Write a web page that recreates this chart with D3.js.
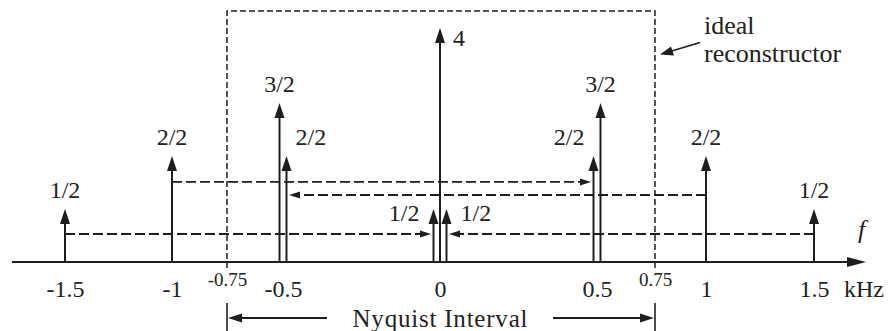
<!DOCTYPE html>
<html>
<head>
<meta charset="utf-8">
<script src="https://cdn.jsdelivr.net/npm/d3@7/dist/d3.min.js"></script>
<style>
  body { margin: 0; background: #fff; }
</style>
</head>
<body>
<svg id="chart" width="889" height="331"></svg>
<script>
// frequency axis ticks (kHz) - drawing is schematic, not to scale
const tickFreqs  = [-1.5, -1, -0.75, -0.5, 0, 0.5, 0.75, 1, 1.5];
const tickLabels = ["-1.5", "-1", "-0.75", "-0.5", "0", "0.5", "0.75", "1", "1.5"];

// spectral lines after sampling: frequency, side of a split pair, amplitude, label
const lineFreqs  = [-1.5, -1, -0.5, -0.5, 0, 0, 0, 0.5, 0.5, 1, 1.5];
const lineSides  = [0, 0, -1, 1, 0, -1, 1, -1, 1, 0, 0];
const lineAmps   = [0.5, 1, 1.5, 1, 4, 0.5, 0.5, 1, 1.5, 1, 0.5];
const lineLabels = ["1/2", "2/2", "3/2", "2/2", "4", "1/2", "1/2", "2/2", "3/2", "2/2", "1/2"];

// aliasing arrows: from frequency -> to frequency (side), drawn at an amplitude level
const foldFrom  = [-1.5, 1.5, -1, 1];
const foldTo    = [0, 0, 0.5, -0.5];
const foldSide  = [-1, 1, -1, 1];
const foldLevel = [0.264, 0.264, 0.755, 0.632];

const nyquist = [-0.75, 0.75];

const svg = d3.select('#chart');
const ink = '#1e1e1e';
const serif = '"Liberation Serif"';
const y0 = 262;

// piecewise scale, the picture is not to scale
const x = d3.scaleLinear()
  .domain(tickFreqs)
  .range([65, 172, 227, 283, 440, 597, 655, 706, 814]);
const y = d3.scaleLinear()
  .domain([0, 1.5, 4])
  .range([y0, 103, 28]);

function splitX(f, side) {
  const gap = f === 0 ? 6.5 : 3.5;
  return x(f) + side * gap;
}

function label(xp, yp, str, size) {
  return svg.append('text')
    .attr('x', xp).attr('y', yp)
    .attr('font-size', size)
    .attr('fill', '#222')
    .style('font-family', serif)
    .text(str);
}

// ideal reconstructor box
const bx0 = x(nyquist[0]), bx1 = x(nyquist[1]);
svg.append('path')
  .attr('d', `M${bx0},${y0 + 6}V11H${bx1}V${y0 + 6}`)
  .attr('fill', 'none')
  .attr('stroke', ink)
  .attr('stroke-width', 1.5)
  .attr('stroke-dasharray', '6,3');

// aliasing arrows
const folds = foldFrom.map((f, i) => ({ from: f, to: foldTo[i], side: foldSide[i], level: foldLevel[i] }));
folds.forEach(d => {
  const xs = x(d.from);
  const xt = splitX(d.to, d.side);
  const dir = Math.sign(xt - xs);
  const tip = xt - dir * 2.5;
  const yy = y(d.level);
  svg.append('line')
    .attr('x1', xs).attr('x2', tip - dir * 9)
    .attr('y1', yy).attr('y2', yy)
    .attr('stroke', ink)
    .attr('stroke-width', 1.8)
    .attr('stroke-dasharray', '10,4');
  svg.append('path')
    .attr('d', `M${tip},${yy}L${tip - dir * 11},${yy - 3.5}L${tip - dir * 11},${yy + 3.5}Z`)
    .attr('fill', ink);
});

// spectral lines
const lines = lineFreqs.map((f, i) => ({
  f, side: lineSides[i], amp: lineAmps[i], label: lineLabels[i]
}));

const g = svg.append('g').selectAll('g').data(lines).join('g');
g.append('line')
  .attr('x1', d => splitX(d.f, d.side))
  .attr('x2', d => splitX(d.f, d.side))
  .attr('y1', y0)
  .attr('y2', d => y(d.amp) + 8)
  .attr('stroke', ink)
  .attr('stroke-width', 2);
g.append('path')
  .attr('d', d => {
    const cx = splitX(d.f, d.side), t = y(d.amp);
    return `M${cx},${t}L${cx - 5},${t + 15}L${cx + 5},${t + 15}Z`;
  })
  .attr('fill', ink);

// label placement: taller of a pair and single lines get a centred label on top,
// the shorter one of a pair gets its label on the outer side
function partnerAmp(d) {
  const p = lines.find(o => o !== d && o.f === d.f && o.side === -d.side && o.side !== 0);
  return p ? p.amp : null;
}
g.append('text')
  .style('font-family', serif)
  .attr('fill', '#222')
  .attr('font-size', 24)
  .attr('text-anchor', d => {
    if (d.amp >= 4) return 'start';
    const pa = partnerAmp(d);
    if (pa !== null && pa > d.amp) return d.side < 0 ? 'end' : 'start';
    if (d.f === 0 && d.side !== 0) return d.side < 0 ? 'end' : 'start';
    return 'middle';
  })
  .attr('x', d => {
    const cx = splitX(d.f, d.side);
    if (d.amp >= 4) return cx + 13;
    if (d.f === 0 && d.side !== 0) return cx + d.side * 14;
    const pa = partnerAmp(d);
    if (pa !== null && pa > d.amp) return cx + d.side * 9;
    return cx;
  })
  .attr('y', d => {
    const t = y(d.amp);
    if (d.amp >= 4) return t + 18;
    if (d.f === 0 && d.side !== 0) return t + 12;
    return t - 11;
  })
  .text(d => d.label);

// frequency axis
svg.append('line')
  .attr('x1', 12).attr('x2', 852)
  .attr('y1', y0).attr('y2', y0)
  .attr('stroke', ink)
  .attr('stroke-width', 2);
svg.append('path')
  .attr('d', `M866,${y0}L847,${y0 - 5}L847,${y0 + 5}Z`)
  .attr('fill', ink);

const axis = d3.axisBottom(x)
  .tickValues(tickFreqs)
  .tickSize(0)
  .tickPadding(18)
  .tickFormat((d, i) => tickLabels[i]);
const ax = svg.append('g')
  .attr('transform', `translate(0,${y0})`)
  .call(axis);
ax.select('.domain').remove();
ax.selectAll('text')
  .style('font-family', serif)
  .attr('fill', '#222')
  .attr('font-size', d => nyquist.includes(d) ? 19 : 24)
  .attr('y', d => nyquist.includes(d) ? 11 : 18);

label(844, 297, 'kHz', 24);
label(858, 238, 'f', 26).attr('font-style', 'italic');

// ideal reconstructor note
label(704, 34, 'ideal', 26);
label(704, 62, 'reconstructor', 26);
svg.append('line')
  .attr('x1', 700).attr('y1', 42.5)
  .attr('x2', 670).attr('y2', 51.5)
  .attr('stroke', ink)
  .attr('stroke-width', 1.8);
svg.append('path')
  .attr('d', 'M660,54.5L671,46.5L674,55.5Z')
  .attr('fill', ink);

// Nyquist interval
const ny = 318;
nyquist.forEach(f => {
  svg.append('line')
    .attr('x1', x(f)).attr('x2', x(f))
    .attr('y1', 303).attr('y2', 331)
    .attr('stroke', ink)
    .attr('stroke-width', 1.6);
});
svg.append('line')
  .attr('x1', bx0 + 12).attr('x2', 327)
  .attr('y1', ny).attr('y2', ny)
  .attr('stroke', ink).attr('stroke-width', 1.8);
svg.append('line')
  .attr('x1', 553).attr('x2', bx1 - 12)
  .attr('y1', ny).attr('y2', ny)
  .attr('stroke', ink).attr('stroke-width', 1.8);
svg.append('path')
  .attr('d', `M${bx0 + 1},${ny}L${bx0 + 15},${ny - 4.5}L${bx0 + 15},${ny + 4.5}Z`)
  .attr('fill', ink);
svg.append('path')
  .attr('d', `M${bx1 - 1},${ny}L${bx1 - 15},${ny - 4.5}L${bx1 - 15},${ny + 4.5}Z`)
  .attr('fill', ink);
label(x(0), 327, 'Nyquist  Interval', 25)
  .attr('text-anchor', 'middle')
  .attr('textLength', 175)
  .attr('lengthAdjust', 'spacing');
</script>
</body>
</html>
